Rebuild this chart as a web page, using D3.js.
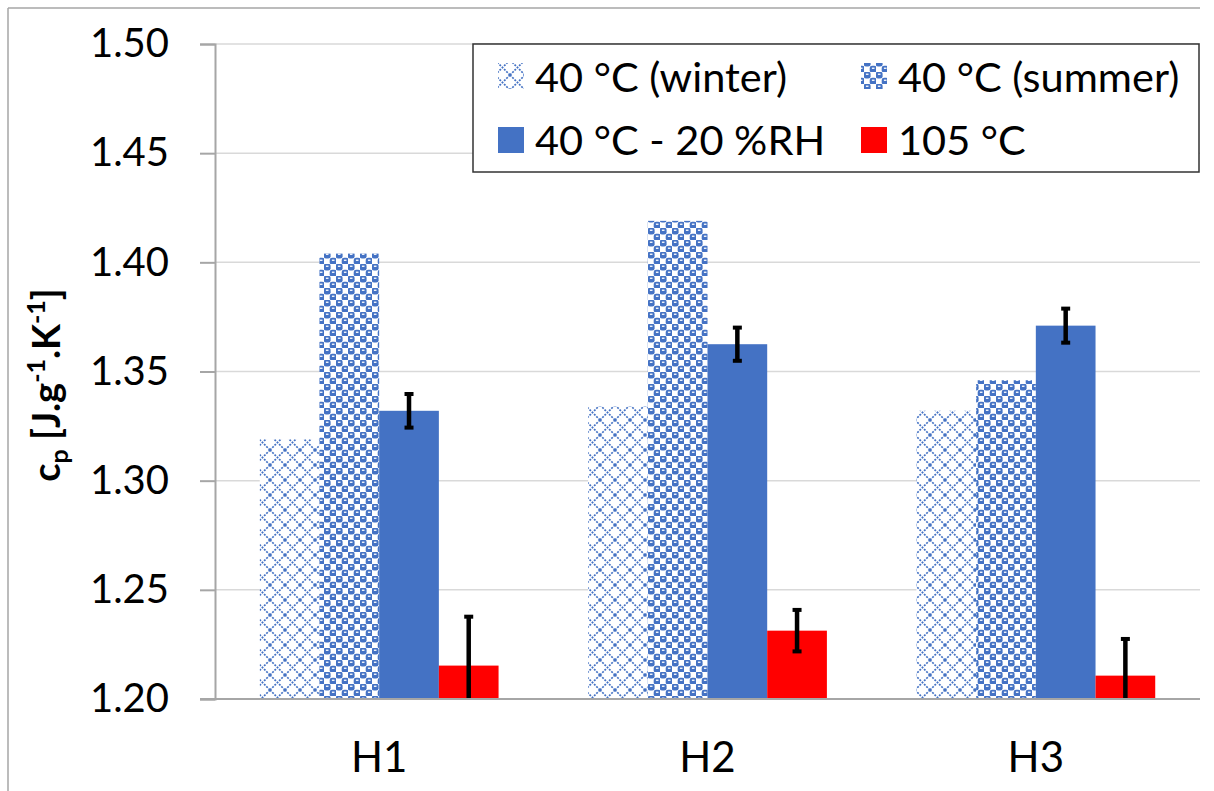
<!DOCTYPE html>
<html>
<head>
<meta charset="utf-8">
<script src="https://cdn.jsdelivr.net/npm/d3@7/dist/d3.min.js"></script>
<style>
  html, body { margin: 0; padding: 0; background: #fff; }
  svg { display: block; }
  text { font-family: Lato, "Open Sans", sans-serif; }
</style>
</head>
<body>
<svg id="chart" width="1214" height="791"></svg>
<script>
// ---- data ----
const categories = ["H1", "H2", "H3"];
const seriesNames = ["40 °C (winter)", "40 °C (summer)", "40 °C - 20 %RH", "105 °C"];
const winter = [1.319, 1.334, 1.332];
const summer = [1.404, 1.419, 1.346];
const rh20 = [1.332, 1.3625, 1.371];
const dry105 = [1.2153, 1.2313, 1.2107];
const rh20Err = [0.0077, 0.0076, 0.0078];
const dry105Err = [0.0224, 0.0095, 0.0168];
const yTicks = [1.20, 1.25, 1.30, 1.35, 1.40, 1.45, 1.50];

const seriesValues = [winter, summer, rh20, dry105];
const seriesErr = [null, null, rh20Err, dry105Err];

// ---- layout ----
const W = 1214, H = 791;
const plot = { left: 215, right: 1200, top: 44, bottom: 699 };
const blue = "#4472C4", red = "#FF0000";

const svg = d3.select("#chart");

// patterns
const defs = svg.append("defs");
const pw = defs.append("pattern").attr("id", "pWinter")
  .attr("patternUnits", "userSpaceOnUse").attr("width", 15).attr("height", 15);
pw.append("rect").attr("width", 15).attr("height", 15).attr("fill", "#fff");
pw.append("path").attr("d", "M0,0 L15,15 M15,0 L0,15")
  .attr("stroke", blue).attr("stroke-width", 1.7).attr("stroke-dasharray", "2,1.2").attr("fill", "none");

const ps = defs.append("pattern").attr("id", "pSummer")
  .attr("patternUnits", "userSpaceOnUse").attr("width", 12).attr("height", 12);
ps.append("rect").attr("width", 12).attr("height", 12).attr("fill", "#fff");
[[-0.3, -0.3], [5.7, 5.7]].forEach(([ox, oy]) => {
  ps.append("rect").attr("x", ox).attr("y", oy).attr("width", 6.9).attr("height", 6.9)
    .attr("rx", 2.4).attr("fill", blue);
  ps.append("rect").attr("x", ox + 2.2).attr("y", oy + 1.9).attr("width", 2.6).attr("height", 1.3)
    .attr("fill", "#fff");
});
ps.append("rect").attr("x", 11.6).attr("y", 11.6).attr("width", 1).attr("height", 1).attr("fill", blue);

const fills = ["url(#pWinter)", "url(#pSummer)", blue, red];

// outer border
svg.append("line").attr("x1", 8).attr("y1", 8).attr("x2", 1200).attr("y2", 8)
  .attr("stroke", "#a6a6a6").attr("stroke-width", 1.5);
svg.append("line").attr("x1", 8).attr("y1", 8).attr("x2", 8).attr("y2", H)
  .attr("stroke", "#a6a6a6").attr("stroke-width", 1.5);

// scales
const y = d3.scaleLinear().domain([1.20, 1.50]).range([plot.bottom, plot.top]);
const x0 = d3.scaleBand().domain(categories).range([plot.left, plot.right]).paddingInner(0).paddingOuter(0);
const bw = x0.bandwidth() / 5.5;
const x1 = d3.scaleBand().domain(d3.range(4)).range([0.75 * bw, 4.75 * bw]).padding(0);

// gridlines
svg.append("g").selectAll("line").data(yTicks.slice(1)).join("line")
  .attr("x1", plot.left).attr("x2", plot.right)
  .attr("y1", d => y(d)).attr("y2", d => y(d))
  .attr("stroke", "#d9d9d9").attr("stroke-width", 1.5);

// bars
const clip = defs.append("clipPath").attr("id", "plotClip");
clip.append("rect").attr("x", plot.left).attr("y", plot.top - 5)
  .attr("width", plot.right - plot.left).attr("height", plot.bottom - plot.top + 5);

const barsG = svg.append("g").attr("clip-path", "url(#plotClip)");
seriesValues.forEach((vals, si) => {
  barsG.append("g").selectAll("rect").data(vals).join("rect")
    .attr("x", (d, i) => x0(categories[i]) + x1(si))
    .attr("width", x1.bandwidth())
    .attr("y", d => y(d))
    .attr("height", d => y(1.20) - y(d))
    .attr("fill", fills[si]);
});

// error bars
seriesErr.forEach((errs, si) => {
  if (!errs) return;
  const g = barsG.append("g");
  seriesValues[si].forEach((v, i) => {
    const cx = x0(categories[i]) + x1(si) + x1.bandwidth() / 2;
    const yt = y(v + errs[i]), yb = y(v - errs[i]);
    g.append("line").attr("x1", cx).attr("x2", cx).attr("y1", yt).attr("y2", yb)
      .attr("stroke", "#000").attr("stroke-width", 4.5);
    [yt, yb].forEach(yy => {
      g.append("line").attr("x1", cx - 4.5).attr("x2", cx + 4.5).attr("y1", yy).attr("y2", yy)
        .attr("stroke", "#000").attr("stroke-width", 4);
    });
  });
});

// y axis
const yAxis = d3.axisLeft(y).tickValues(yTicks).tickFormat(d3.format(".2f")).tickSize(15).tickPadding(31);
const yg = svg.append("g").attr("transform", `translate(${plot.left},0)`).call(yAxis);
yg.select(".domain").attr("stroke", "#a6a6a6").attr("stroke-width", 2);
yg.selectAll(".tick line").attr("stroke", "#a6a6a6").attr("stroke-width", 2);
yg.selectAll(".tick text").attr("font-size", 40).attr("fill", "#000")
  .attr("font-family", "Lato, sans-serif");

// x axis
const xAxis = d3.axisBottom(x0).tickSize(0).tickPadding(43);
const xg = svg.append("g").attr("transform", `translate(0,${plot.bottom})`).call(xAxis);
xg.select(".domain").attr("stroke", "#a6a6a6").attr("stroke-width", 2)
  .attr("d", `M${plot.left - 15},0H${plot.right}`);
xg.selectAll(".tick text").attr("font-size", 42).attr("fill", "#000")
  .attr("font-family", "Lato, sans-serif");

// y title
const yt = svg.append("text")
  .attr("transform", "translate(60,385) rotate(-90)")
  .attr("text-anchor", "middle")
  .attr("font-size", 38).attr("font-weight", "bold").attr("fill", "#000");
yt.append("tspan").text("c");
yt.append("tspan").attr("font-size", 25).attr("dy", 8).text("p");
yt.append("tspan").attr("dy", -8).text(" [J.g");
yt.append("tspan").attr("font-size", 25).attr("dy", -15).text("-1");
yt.append("tspan").attr("dy", 15).text(".K");
yt.append("tspan").attr("font-size", 25).attr("dy", -15).text("-1");
yt.append("tspan").attr("dy", 15).text("]");

// legend
const lg = svg.append("g");
lg.append("rect").attr("x", 473).attr("y", 44).attr("width", 726).attr("height", 128)
  .attr("fill", "#fff").attr("stroke", "#333").attr("stroke-width", 1.5);
const legPos = [[498, 63, 92], [861, 63, 92], [498, 127, 155], [861, 127, 155]];
seriesNames.forEach((name, i) => {
  const [sx, sy, by] = legPos[i];
  lg.append("rect").attr("x", sx).attr("y", sy).attr("width", 26).attr("height", 26).attr("fill", fills[i]);
  lg.append("text").attr("x", sx + 37).attr("y", by).attr("font-size", 41.5).attr("fill", "#000").text(name);
});
</script>
</body>
</html>
